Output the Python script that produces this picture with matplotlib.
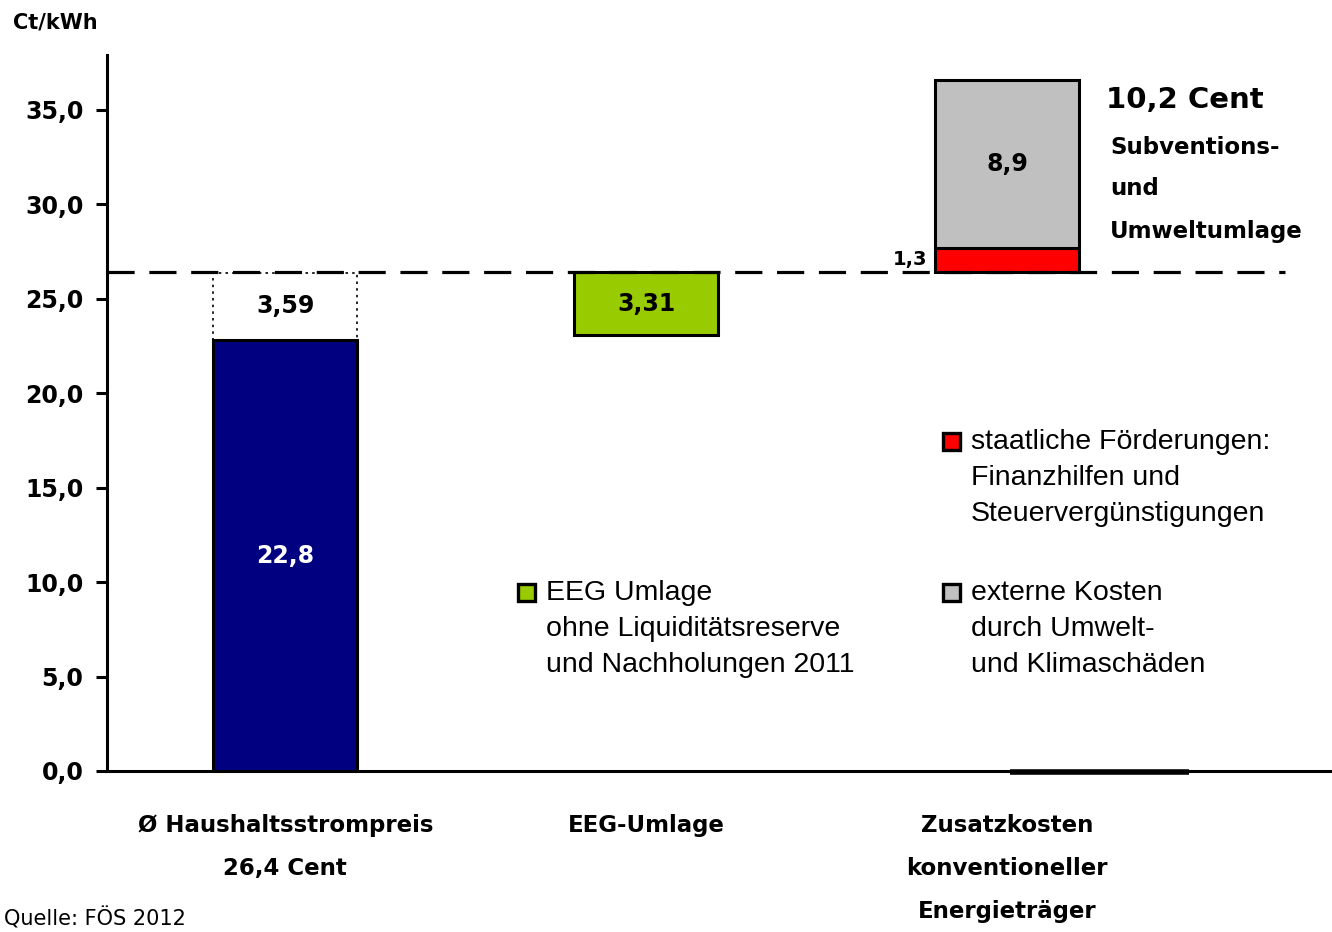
import matplotlib
matplotlib.use('Agg')
import matplotlib.pyplot as plt
from matplotlib.patches import Rectangle
from matplotlib.ticker import FuncFormatter

# values (Ct/kWh)
categories = ['Ø Haushaltsstrompreis\n26,4 Cent', 'EEG-Umlage',
              'Zusatzkosten\nkonventioneller\nEnergieträger']
strompreis_ohne_eeg = 22.8
eeg_umlage = 3.59
eeg_ohne_reserve = 3.31
foerderungen = 1.3
externe_kosten = 8.9
strompreis = 26.4

W, H = 1332, 932
fig = plt.figure(figsize=(W / 100, H / 100), dpi=100)
ax = fig.add_axes([107 / W, (H - 771) / H, 1 - 107 / W, (771 - 55) / H])

def fx(px):
    return px / W

def fy(py):
    return 1 - py / H

bw = 0.40
edge = dict(edgecolor='black', linewidth=2.2)

# Haushaltsstrompreis
ax.bar(0, strompreis_ohne_eeg, bw, color='#000080', zorder=3, **edge)
ax.bar(0, eeg_umlage, bw, bottom=strompreis_ohne_eeg, color='white',
       edgecolor='black', linewidth=1.2, linestyle=(0, (1.5, 2.5)), zorder=2)
# EEG-Umlage
ax.bar(1, eeg_ohne_reserve, bw, bottom=strompreis - eeg_ohne_reserve,
       color='#99CC00', zorder=3, **edge)
# Zusatzkosten
ax.bar(2, foerderungen, bw, bottom=strompreis, color='#FF0000', zorder=3, **edge)
ax.bar(2, externe_kosten, bw, bottom=strompreis + foerderungen,
       color='#C0C0C0', zorder=3, **edge)

# reference line at household price
ax.plot([-0.494, 2.77], [strompreis, strompreis], color='black', lw=2.3,
        linestyle=(0, (8.5, 4.6)), zorder=4, clip_on=False)
ax.plot([2.007, 2.505], [-0.06, -0.06], color='black', lw=4.0, zorder=5,
        clip_on=False, solid_capstyle='butt')

# value labels
bold = dict(fontweight='bold', family='DejaVu Sans')
ax.text(0, strompreis_ohne_eeg + eeg_umlage / 2, '3,59', ha='center',
        va='center', fontsize=17, **bold)
ax.text(0, strompreis_ohne_eeg / 2, '22,8', ha='center', va='center',
        fontsize=17, color='white', zorder=6, **bold)
ax.text(1, strompreis - eeg_ohne_reserve / 2, '3,31', ha='center',
        va='center', fontsize=17, zorder=6, **bold)
ax.text(2, strompreis + foerderungen + externe_kosten / 2, '8,9',
        ha='center', va='center', fontsize=17, zorder=6, **bold)
ax.text(1.78, strompreis + foerderungen / 2 + 0.05, '1,3', ha='right',
        va='center', fontsize=14, zorder=6, **bold)

# axes styling
ax.set_xlim(-0.494, 2.9)
ax.set_ylim(0, 37.91)
ax.set_yticks([0, 5, 10, 15, 20, 25, 30, 35])
ax.yaxis.set_major_formatter(FuncFormatter(lambda v, p: f'{v:.1f}'.replace('.', ',')))
for lab in ['top', 'right']:
    ax.spines[lab].set_visible(False)
ax.spines['left'].set_linewidth(2.2)
ax.spines['bottom'].set_linewidth(2.2)
ax.tick_params(axis='y', length=8, width=2.2, direction='out', pad=9,
               labelsize=17)
ax.set_xticks([0, 1, 2])
ax.set_xticklabels(categories)
ax.tick_params(axis='x', length=0, pad=31, labelsize=16.5)
for t in ax.get_yticklabels() + ax.get_xticklabels():
    t.set_fontweight('bold')
    t.set_family('DejaVu Sans')
for t in ax.get_xticklabels():
    t.set_linespacing(2.1)

fig.text(fx(13), fy(22), 'Ct/kWh', ha='left', va='center', fontsize=15, **bold)

# annotation at the right
fig.text(fx(1106), fy(100), '10,2 Cent', ha='left', va='center',
         fontsize=21, **bold)
for i, line in enumerate(['Subventions-', 'und', 'Umweltumlage']):
    fig.text(fx(1110), fy(147 + 42 * i), line, ha='left', va='center',
             fontsize=16.5, **bold)

# legend entries
legend_items = [
    ('#99CC00', 518, 593, ['EEG Umlage', 'ohne Liquiditätsreserve',
                           'und Nachholungen 2011']),
    ('#FF0000', 943, 442, ['staatliche Förderungen:', 'Finanzhilfen und',
                           'Steuervergünstigungen']),
    ('#C0C0C0', 943, 593, ['externe Kosten', 'durch Umwelt-',
                           'und Klimaschäden']),
]
for color, x0, y0, lines in legend_items:
    fig.add_artist(Rectangle((fx(x0), fy(y0 + 8)), 17 / W, 17 / H,
                             transform=fig.transFigure, facecolor=color,
                             edgecolor='black', linewidth=2.4))
    for i, line in enumerate(lines):
        fig.text(fx(x0 + 28), fy(y0 + 36 * i), line, ha='left', va='center',
                 fontsize=20.5, family='Liberation Sans')

fig.text(fx(4), fy(918), 'Quelle: FÖS 2012', ha='left', va='center',
         fontsize=15, family='DejaVu Sans')

fig.savefig('out.png', dpi=100)
